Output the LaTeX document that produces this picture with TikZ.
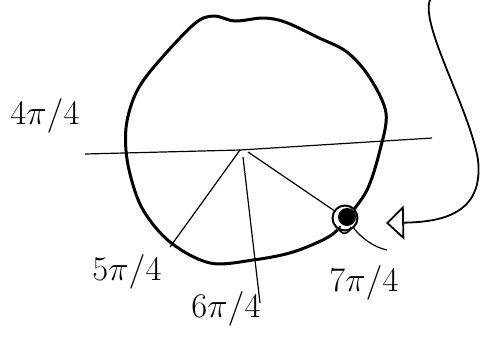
\documentclass[tikz,border=0pt]{standalone}
\usepackage{amsmath, amssymb}
\usetikzlibrary{arrows.meta}

\begin{document}
\begin{tikzpicture}[
  x=0.5pt, y=-0.5pt,
  label/.style={font=\fontsize{17}{20}\selectfont, inner sep=0pt},
  rim/.style={line width=1.5pt, line join=round},
  ray/.style={line width=0.6pt},
  arrow/.style={line width=0.9pt, -{Triangle[open, length=9pt, width=17pt, line width=0.9pt]}}
]
  \useasboundingbox (0,0) rectangle (490,339);

  % the wheel
  \draw [rim] plot [smooth cycle, tension=0.55] coordinates {
    (193,25) (213,16) (235,21) (263,18) (285,22) (317,37) (347,52)
    (370,78) (386,113) (380,150) (367,190) (346,219) (330,236)
    (293,252) (253,260) (210,263) (170,242) (142,208) (128,165)
    (126,128) (135,95) (153,68)};

  \coordinate (O) at (240,150);
  \coordinate (west) at (85,154);
  \coordinate (east) at (432,138);
  \coordinate (a5) at (170,247);
  \coordinate (a6) at (260,303);
  \coordinate (top) at (430,0);
  \coordinate (tip) at (386,223);

  \node (dot) [circle, draw, line width=1pt, fill=white, minimum size=12.5pt, inner sep=0pt] at (345,218) {};
  \fill (347,217) circle [radius=9];
  \draw [line width=0.8pt] (340,226) .. controls (337,234) and (348,237) .. (351,227);

  \draw [ray] (west) -- (O) -- (east);
  \draw [ray] (O) -- (a5);
  \draw [ray] (243,157) -- (a6);
  \draw [ray] (248,152) -- (dot);
  \draw [ray] (dot) .. controls (362,238) and (373,247) .. (387,250);

  \node (n4) [label] at (45,116) {$4\pi/4$};
  \node (n5) [label] at (127,272) {$5\pi/4$};
  \node (n6) [label] at (226,309) {$6\pi/4$};
  \node (n7) [label] at (364,283) {$7\pi/4$};

  \draw [arrow] (top) .. controls (420,25) and (470,110) .. (478,160)
    .. controls (484,215) and (440,222) .. (tip);
\end{tikzpicture}
\end{document}
